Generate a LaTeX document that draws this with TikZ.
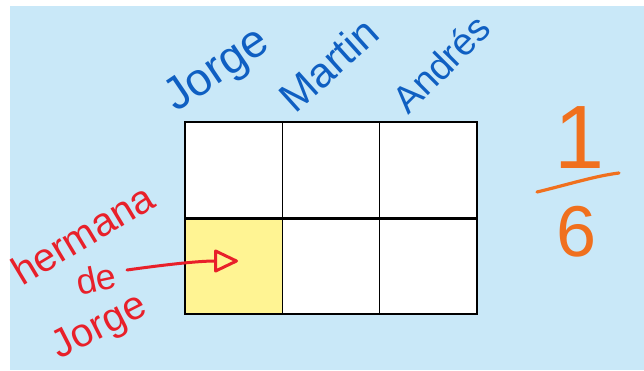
\documentclass[tikz,border=0pt]{standalone}
\usepackage{fontspec}
\setmainfont{Liberation Sans}
\usetikzlibrary{arrows.meta}
\definecolor{bgblue}{HTML}{C9E8F8}
\definecolor{nameblue}{HTML}{0F5FC2}
\definecolor{redink}{HTML}{E8202A}
\definecolor{orangeink}{HTML}{F0701E}
\definecolor{cellyellow}{HTML}{FFF493}
\tikzset{
  cell/.style={draw=black, line width=1.2pt, fill=white, minimum width=97.3pt, minimum height=96pt, inner sep=0pt, outer sep=0pt},
  bluename/.style={text=nameblue, anchor=base west, inner sep=0pt},
  redtext/.style={text=redink, inner sep=0pt},
  orangetext/.style={text=orangeink, inner sep=0pt},
}
\begin{document}
\begin{tikzpicture}[x=1pt,y=-1pt]
\useasboundingbox (0,0) rectangle (644,370);
\fill[white] (0,0) rectangle (644,370);
\fill[bgblue] (10,6) rectangle (644,370);
% grid
\node[cell, anchor=north west] (c11) at (185,122) {};
\node[cell, anchor=north west] (c12) at (282.3,122) {};
\node[cell, anchor=north west] (c13) at (379.6,122) {};
\node[cell, anchor=north west, fill=cellyellow] (c21) at (185,218) {};
\node[cell, anchor=north west] (c22) at (282.3,218) {};
\node[cell, anchor=north west] (c23) at (379.6,218) {};
\draw[line width=3pt] (c11.south west) -- (c13.south east);
% names
\node[bluename, font=\fontsize{46}{46}\selectfont, rotate=34] (n1) at (176,113) {Jorge};
\node[bluename, font=\fontsize{42}{42}\selectfont, rotate=42] (n2) at (295,115) {Martin};
\node[bluename, font=\fontsize{38}{38}\selectfont, rotate=45] (n3) at (408,116) {Andrés};
% red labels
\node[redtext, font=\fontsize{40}{40}\selectfont, anchor=base west, rotate=31] (h1) at (22,287) {hermana};
\node[redtext, font=\fontsize{36}{36}\selectfont, rotate=12] (h2) at (96,279) {de};
\node[redtext, font=\fontsize{40}{40}\selectfont, rotate=27] (h3) at (100,328) {Jorge};
\coordinate (astart) at (127,270);
\coordinate (aend) at (238,261);
\draw[redink, line width=3pt, line cap=round, -{Triangle[open, length=26pt, width=24pt, line width=3pt, round]}] (astart) .. controls (170,264) and (200,261) .. (aend);
% fraction
\node[orangetext, font=\fontsize{90}{90}\selectfont, anchor=base] (one) at (580,168) {1};
\coordinate (barL) at (537,192);
\coordinate (barR) at (619,173);
\draw[orangeink, line width=3.2pt, line cap=round] (barL) .. controls (570,184) and (595,176) .. (barR);
\node[orangetext, font=\fontsize{72}{72}\selectfont, anchor=base] (six) at (577,256) {6};
\end{tikzpicture}
\end{document}
